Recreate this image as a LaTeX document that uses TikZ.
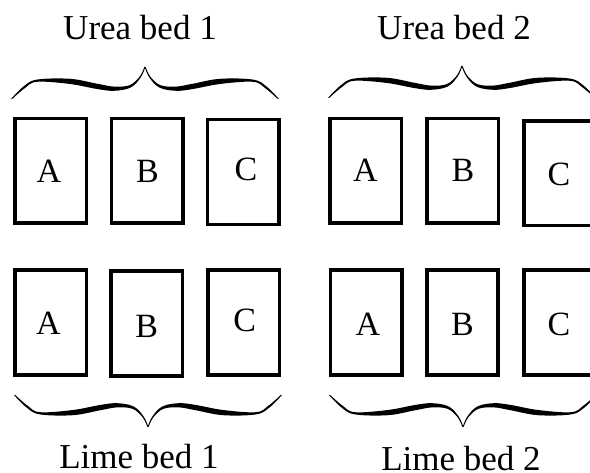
\documentclass[tikz,border=0pt]{standalone}
\usepackage{fontspec}
\setmainfont{Liberation Serif}
\newcommand{\halfbracefill}{%
  \fill plot[smooth,tension=0.6] coordinates {(-134,0) (-121.5,-12.5) (-108,-19.4) (-75,-20.2) (-48,-15.3) (-31,-12.4) (-15.5,-13.8) (-5.6,-22) (-0.6,-32)}
    -- plot[smooth,tension=0.6] coordinates {(0.4,-32) (-4.4,-21.4) (-14.5,-11.4) (-31,-8.2) (-48,-10) (-75,-15) (-108,-17.2) (-120.5,-10.6) (-132.8,0)}
    -- cycle;}
\newcommand{\fullbrace}{%
  \halfbracefill
  \begin{scope}[xscale=-1]\halfbracefill\end{scope}}
\begin{document}
\begin{tikzpicture}[x=1pt,y=-1pt,
  bed/.style={draw, line width=3.6pt, minimum width=71.4pt, minimum height=104.9pt, inner sep=0pt},
  letter/.style={font=\fontsize{34}{40}\selectfont, inner sep=0pt},
  bedlabel/.style={font=\fontsize{35}{40}\selectfont, inner sep=0pt, anchor=base}
]
\useasboundingbox (0,0) rectangle (590,473);
\fill[white] (0,0) rectangle (590,473);
\clip (0,0) rectangle (590,473);

% top row boxes
\node[bed] (u1a) at (50.8,170.8) {};
\node[bed] (u1b) at (147.2,170.8) {};
\node[bed] (u1c) at (243,172) {};
\node[bed] (u2a) at (365.8,170.8) {};
\node[bed] (u2b) at (462.8,170.8) {};
\node[bed] (u2c) at (559.4,173.2) {};
% bottom row boxes
\node[bed] (l1a) at (50.8,322.5) {};
\node[bed] (l1b) at (146.8,323.5) {};
\node[bed] (l1c) at (243.8,322.7) {};
\node[bed] (l2a) at (366.3,322.3) {};
\node[bed] (l2b) at (462.5,322.3) {};
\node[bed] (l2c) at (559.4,322.3) {};

% letters
\node[letter] (tu1a) at (49,171) {A};
\node[letter] (tu1b) at (147.5,171) {B};
\node[letter] (tu1c) at (246,169) {C};
\node[letter] (tu2a) at (365.5,170) {A};
\node[letter] (tu2b) at (463,170) {B};
\node[letter] (tu2c) at (559,174) {C};
\node[letter] (tl1a) at (48.5,323.5) {A};
\node[letter] (tl1b) at (146.7,326) {B};
\node[letter] (tl1c) at (244.7,320) {C};
\node[letter] (tl2a) at (368,324) {A};
\node[letter] (tl2b) at (462.5,324) {B};
\node[letter] (tl2c) at (559,324) {C};

% braces
\begin{scope}[shift={(145,99)}]\fullbrace\end{scope}
\begin{scope}[shift={(462,98)}]\fullbrace\end{scope}
\begin{scope}[shift={(148,395)},yscale=-1]\fullbrace\end{scope}
\begin{scope}[shift={(463,395)},yscale=-1]\fullbrace\end{scope}

% labels
\node[bedlabel] (lu1) at (140,40) {Urea bed 1};
\node[bedlabel] (lu2) at (454,40) {Urea bed 2};
\node[bedlabel] (ll1) at (139,469) {Lime bed 1};
\node[bedlabel] (ll2) at (461,470.5) {Lime bed 2};
\end{tikzpicture}
\end{document}
